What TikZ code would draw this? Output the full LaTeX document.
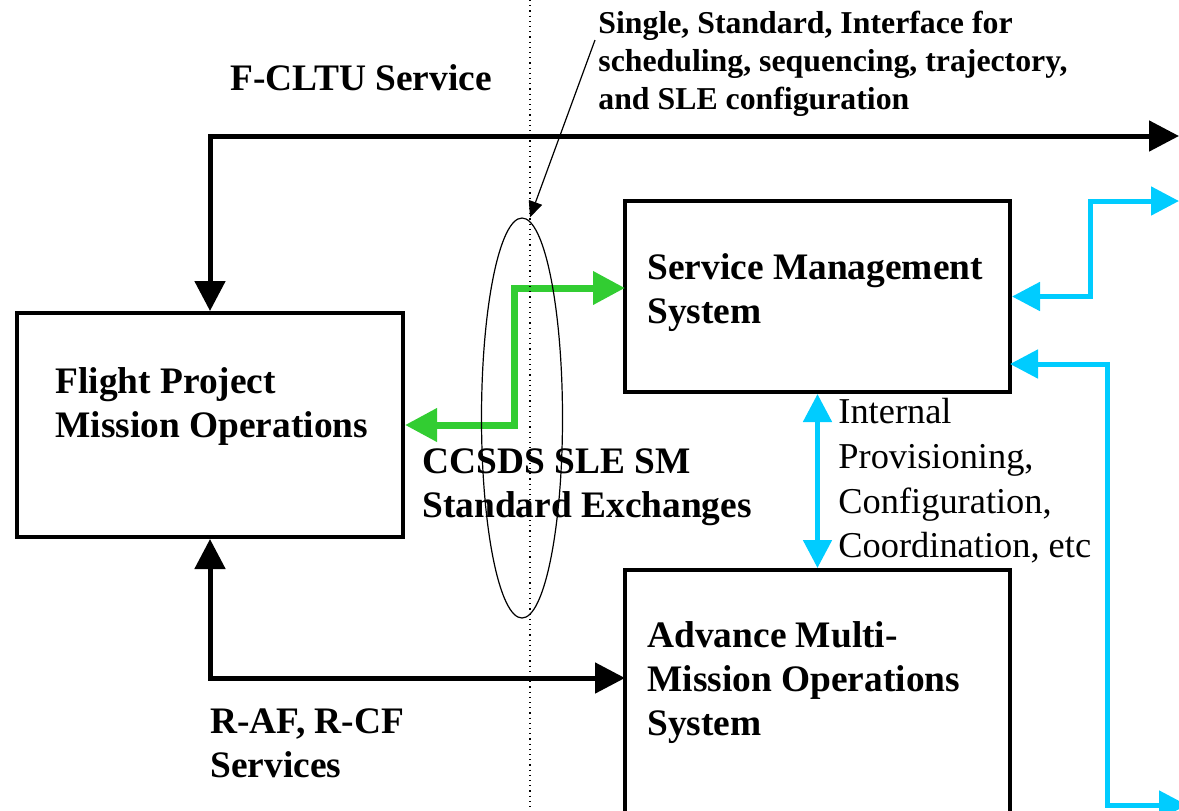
\documentclass[tikz,border=0pt]{standalone}
\usepackage{fontspec}
\setmainfont{Liberation Serif}
\usetikzlibrary{arrows.meta,shapes.geometric}
\definecolor{smcyan}{RGB}{0,204,255}
\definecolor{smgreen}{RGB}{50,205,50}

\begin{document}
\begin{tikzpicture}[x=0.5pt, y=-0.5pt,
    system/.style ={draw, line width=2pt, inner sep=0pt},
    heading/.style ={font=\fontsize{18.7}{22}\selectfont\bfseries, align=left, inner sep=0pt, anchor=west},
    remark/.style ={font=\fontsize{15.9}{19}\selectfont\bfseries, align=left, inner sep=0pt, anchor=north west},
    plain/.style ={font=\fontsize{18.2}{22.3}\selectfont, align=left, inner sep=0pt, anchor=west},
    blackflow/.style ={line width=2.5pt, {Triangle[length=15pt,width=15pt]}-{Triangle[length=15pt,width=15pt]}},
    greenflow/.style ={smgreen, line width=3.5pt, {Triangle[length=16pt,width=16pt]}-{Triangle[length=16pt,width=16pt]}},
    cyanflow/.style ={smcyan, line width=2.5pt, {Triangle[length=14pt,width=14pt]}-{Triangle[length=14pt,width=14pt]}}]
   \useasboundingbox (0,0) rectangle (1179,810);

   \node[system, minimum width=193pt, minimum height=112pt] (fp)  at (210,425)   {};
   \node[system, minimum width=192.5pt, minimum height=95.5pt] (sm) at (817.5,296.5) {};
   \node[system, minimum width=192.5pt, minimum height=135pt] (amm) at (817.5,705) {};

   \coordinate (cltuout) at (1179,136);
   \coordinate (ammin)   at (625,678);
   \coordinate (smin)    at (625,288);
   \coordinate (smout)   at (1010,364);
   \coordinate (cyanout) at (1179,201);
   \coordinate (cyanlow) at (1187,805);
   \coordinate (notefoot) at (595,40);

   \draw[blackflow] (fp.north) |- (cltuout);
   \draw[blackflow] (fp.south) |- (ammin);
   \draw[greenflow] (fp.east) -- ++(109,0) |- (smin);
   \draw[cyanflow] (sm.east) -- ++(78,0) |- (cyanout);
   \draw[cyanflow] (smout) -- ++(97,0) |- (cyanlow);
   \draw[cyanflow] (sm.south) -- (amm.north);

   \draw[dotted, line width=0.6pt] (530,0) -- (530,810);
   \node[draw, ellipse, line width=0.6pt, minimum width=40.5pt, minimum height=200pt, inner sep=0pt] (sle) at (522,418) {};
   \draw[line width=0.6pt, -{Triangle[length=8pt,width=7pt]}] (notefoot) -- ([xshift=4pt]sle.north);

   \node[heading] (fptext)  at (55,406)  {Flight Project\\Mission Operations};
   \node[heading] (smtext)  at (647,293) {Service Management\\System};
   \node[heading] (ammtext) at (647,683) {Advance Multi-\\Mission Operations\\System};
   \node[heading] (cltu)    at (230,78)  {F-CLTU Service};
   \node[heading] (ccsds)   at (422,487) {CCSDS SLE SM\\Standard Exchanges};
   \node[heading] (raf)     at (210,743) {R-AF, R-CF\\Services};
   \node[remark]  (note)    at (598,11)  {Single, Standard, Interface for\\scheduling, sequencing, trajectory,\\and SLE configuration};
   \node[plain]   (internal) at (838,481) {Internal\\Provisioning,\\Configuration,\\Coordination, etc};

\end{tikzpicture}
\end{document}
